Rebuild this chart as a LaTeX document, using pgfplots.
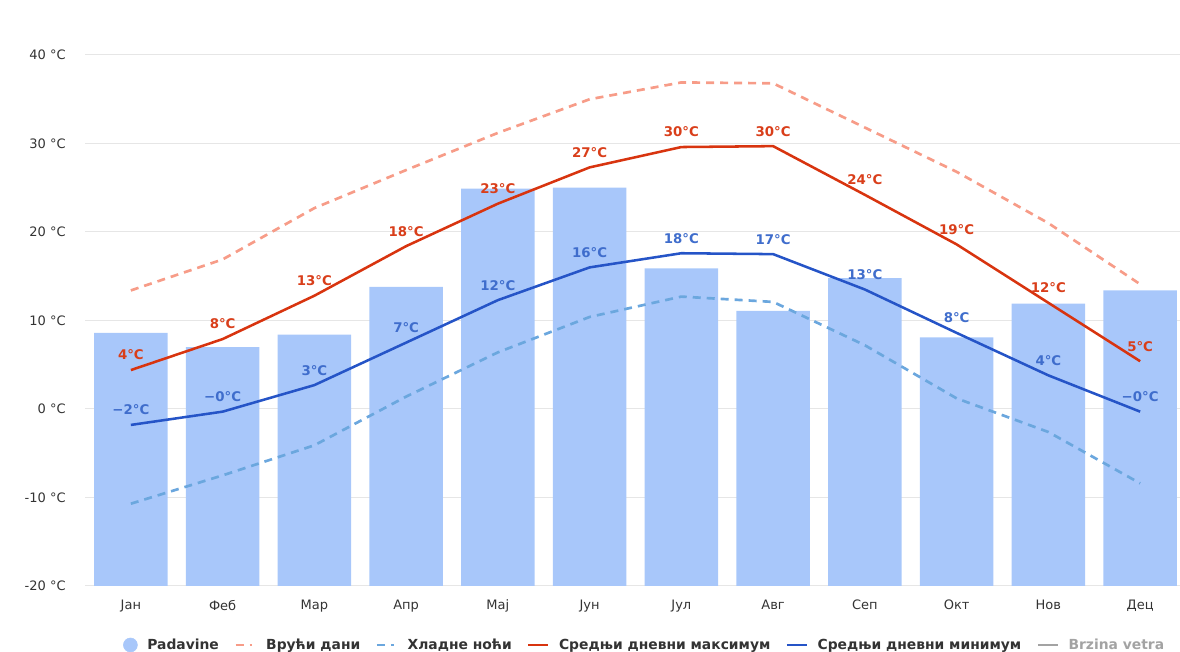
\documentclass[border=0pt]{standalone}
\usepackage{pgfplots}
\pgfplotsset{compat=1.18}
\usepackage{fontspec}
\setmainfont{DejaVu Sans}

\definecolor{barblue}{HTML}{A8C7FA}
\definecolor{maxred}{HTML}{D8340F}
\definecolor{minblue}{HTML}{2554C7}
\definecolor{labred}{HTML}{D93E1A}
\definecolor{labblue}{HTML}{3F6DCC}
\definecolor{hotpink}{HTML}{F79C88}
\definecolor{coldblue}{HTML}{6BA7DE}
\definecolor{gridgray}{HTML}{E6E6E6}
\definecolor{txt}{HTML}{333333}
\definecolor{windgray}{HTML}{A3A3A3}

\pgfplotsset{
  base/.style={scale only axis, width=825.75pt, height=398.25pt,
    at={(63.75pt,49.5pt)}, anchor=south west, xmin=-0.5, xmax=11.5},
  tlab/.style={nodes near coords, point meta=explicit symbolic,
    every node near coord/.append style={anchor=center, yshift=11.25pt,
      text=#1, font=\bfseries\fontsize{10}{12}\selectfont}},
  limg/.style={legend image code/.code={\draw[##1] (0pt,0pt) -- (15pt,0pt);
      \path (20pt,0pt);}}
}

\begin{document}
\begin{tikzpicture}[x=1pt,y=1pt]
\useasboundingbox (0,0) rectangle (885,489);
\clip (0,0) rectangle (885,489);

% grid and tick labels
\begin{axis}[base, ymin=-20, ymax=40,
  ytick={-20,-10,...,40},
  yticklabels={-20 °C,-10 °C,0 °C,10 °C,20 °C,30 °C,40 °C},
  xtick={0,...,11},
  xticklabels={Јан,Феб,Мар,Апр,Мај,Јун,Јул,Авг,Сеп,Окт,Нов,Дец},
  axis line style={draw=none}, major tick length=0pt,
  ymajorgrids, grid style={gridgray, line width=0.75pt},
  tick label style={font=\fontsize{9.75}{12}\selectfont, text=txt},
  yticklabel shift=11pt, xticklabel shift=7pt]
\end{axis}

% precipitation bars
\begin{axis}[base, hide axis, ymin=0, ymax=60]
\addplot[ybar, bar width=0.8, bar shift=0pt, draw=none, fill=barblue]
  coordinates {(0,28.6) (1,27.0) (2,28.4) (3,33.8) (4,44.9) (5,45.0)
               (6,35.9) (7,31.1) (8,34.8) (9,28.1) (10,31.9) (11,33.4)};
\end{axis}

% temperature lines
\begin{axis}[base, hide axis, ymin=-20, ymax=40,
  legend columns=6,
  legend style={at={(axis description cs:0.5086,0)}, anchor=center,
    yshift=-44.25pt, draw=none, fill=none, text=txt,
    font=\bfseries\fontsize{10.4}{12}\selectfont,
    /tikz/every even column/.append style={column sep=9.5pt}},
  legend cell align=left]
\addlegendimage{legend image code/.code={\fill[barblue] (5.25pt,0pt) circle (5.25pt);
    \path (15.75pt,0pt);}}
\addlegendentry{Padavine}

\addplot[hotpink, line width=2pt, dash pattern=on 6pt off 4.5pt,
  limg, legend image post style={dash pattern=on 6pt off 4.5pt on 2pt off 10pt}]
  coordinates {(0,13.4) (1,16.9) (2,22.7) (3,27.0) (4,31.2) (5,35.0)
               (6,36.9) (7,36.8) (8,31.8) (9,26.8) (10,21.0) (11,14.1)};
\addlegendentry{Врући дани}

\addplot[coldblue, line width=2pt, dash pattern=on 6pt off 4.5pt,
  limg, legend image post style={dash pattern=on 6pt off 4.5pt on 2pt off 10pt}]
  coordinates {(0,-10.7) (1,-7.5) (2,-4.1) (3,1.4) (4,6.4) (5,10.4)
               (6,12.7) (7,12.1) (8,7.2) (9,1.2) (10,-2.6) (11,-8.4)};
\addlegendentry{Хладне ноћи}

\addplot[maxred, line width=1.9pt, line join=round, limg, tlab=labred]
  coordinates {(0,4.4)[4°C] (1,7.9)[8°C] (2,12.8)[13°C] (3,18.4)[18°C]
               (4,23.2)[23°C] (5,27.3)[27°C] (6,29.6)[30°C] (7,29.7)[30°C]
               (8,24.2)[24°C] (9,18.6)[19°C] (10,12.0)[12°C] (11,5.4)[5°C]};
\addlegendentry{Средњи дневни максимум}

\addplot[minblue, line width=1.9pt, line join=round, limg, tlab=labblue]
  coordinates {(0,-1.8)[−2°C] (1,-0.3)[−0°C] (2,2.7)[3°C] (3,7.5)[7°C]
               (4,12.3)[12°C] (5,16.0)[16°C] (6,17.6)[18°C] (7,17.5)[17°C]
               (8,13.5)[13°C] (9,8.6)[8°C] (10,3.8)[4°C] (11,-0.3)[−0°C]};
\addlegendentry{Средњи дневни минимум}

\addlegendimage{windgray, line width=2pt, limg}
\addlegendentry{\textcolor{windgray}{Brzina vetra}}
\end{axis}
\end{tikzpicture}
\end{document}
